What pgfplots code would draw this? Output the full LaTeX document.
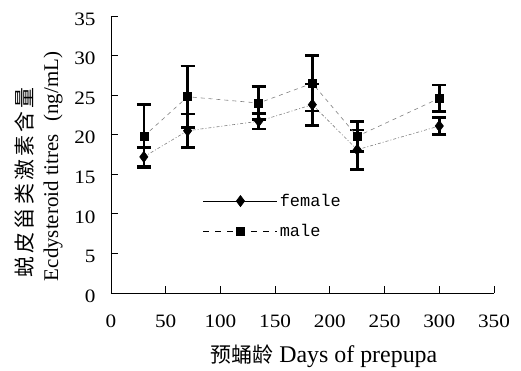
\documentclass[border=0pt]{standalone}
\usepackage{fontspec}
\setmainfont{Liberation Serif}
\newfontfamily\tickfont{Liberation Serif}[FakeStretch=1.12]
\newfontfamily\cjk{Noto Sans CJK SC}[LetterSpace=15]
\newfontfamily\cjkx{Noto Sans CJK SC}
\newfontfamily\mono{Liberation Mono}
\usepackage{pgfplots}
\pgfplotsset{compat=1.18}
\begin{document}
\begin{tikzpicture}
\path[use as bounding box] (-111bp,-78bp) rectangle (410bp,293bp);
\begin{axis}[
  at={(0,0)}, anchor=south west,
  scale only axis, width=383bp, height=277bp,
  xmin=0, xmax=350, ymin=0, ymax=35,
  axis x line*=bottom, axis y line*=left,
  axis line style={line width=0.9bp, black, -},
  xtick={0,50,...,350}, ytick={0,5,...,35},
  tick align=inside, major tick length=7bp,
  tick style={line width=0.9bp, black},
  /pgf/number format/assume math mode=true,
  ticklabel style={font=\tickfont\fontsize{19}{21}\selectfont},
  xticklabel style={anchor=north, yshift=-18bp},
  yticklabel style={anchor=east, xshift=-12bp, yshift=-3bp},
  clip=false,
  legend style={draw=none, fill=none, at={(rel axis cs:0.240,0.278)}, anchor=west,
    font=\mono\fontsize{17}{18}\selectfont, row sep=12bp, inner sep=0pt},
  legend cell align=left,
  legend image code/.code={\draw[mark repeat=2,mark phase=2,#1] plot coordinates {(0bp,0bp) (37bp,0bp) (74bp,0bp)};},
]
\addlegendimage{black, line width=0.7bp, mark=diamond*, mark size=5.5bp, mark options={solid}}
\addlegendentry{female}
\addlegendimage{black, line width=0.7bp, dash pattern=on 6bp off 6bp, mark=square*, mark size=4bp, mark options={solid}}
\addlegendentry{male}
% female
\addplot[forget plot, gray, line width=0.6bp, dash pattern=on 3bp off 2bp on 1bp off 2bp,
  mark=diamond*, mark size=5.5bp, mark options={black, solid},
  error bars/.cd, y dir=both, y explicit,
  error bar style={line width=2.6bp, black, solid},
  error mark options={rotate=90, mark size=7bp, line width=2.6bp, black, solid}]
  coordinates {
  (30,17.2) +- (0,1.2)
  (70,20.5) +- (0,2.1)
  (135,21.7) +- (0,1.0)
  (184,23.8) +- (0,2.6)
  (225,18.1) +- (0,2.5)
  (300,21.1) +- (0,1.1)
  };
% male
\addplot[forget plot, gray, line width=0.6bp, dash pattern=on 4bp off 4bp,
  mark=square*, mark size=4bp, mark options={black, solid},
  error bars/.cd, y dir=both, y explicit,
  error bar style={line width=2.6bp, black, solid},
  error mark options={rotate=90, mark size=7bp, line width=2.6bp, black, solid}]
  coordinates {
  (30,19.8) +- (0,4.0)
  (70,24.8) +- (0,3.9)
  (135,24.0) +- (0,2.1)
  (184,26.5) +- (0,3.5)
  (225,19.8) +- (0,1.9)
  (300,24.6) +- (0,1.7)
  };
\node[rotate=90, anchor=center, font=\cjk\fontsize{21}{22}\selectfont] at (rel axis cs:-0.227,0.399) {蜕皮甾类激素含量};
\node[rotate=90, anchor=center, font=\fontsize{21}{22}\selectfont] at (rel axis cs:-0.151,0.457) {Ecdysteroid titres\hspace{0.6em}(ng/mL)};
\node[anchor=center, font=\fontsize{24}{26}\selectfont] at (rel axis cs:0.556,-0.227) {{\cjkx\fontsize{21}{22}\selectfont 预蛹龄} Days of prepupa};
\end{axis}
\end{tikzpicture}
\end{document}
